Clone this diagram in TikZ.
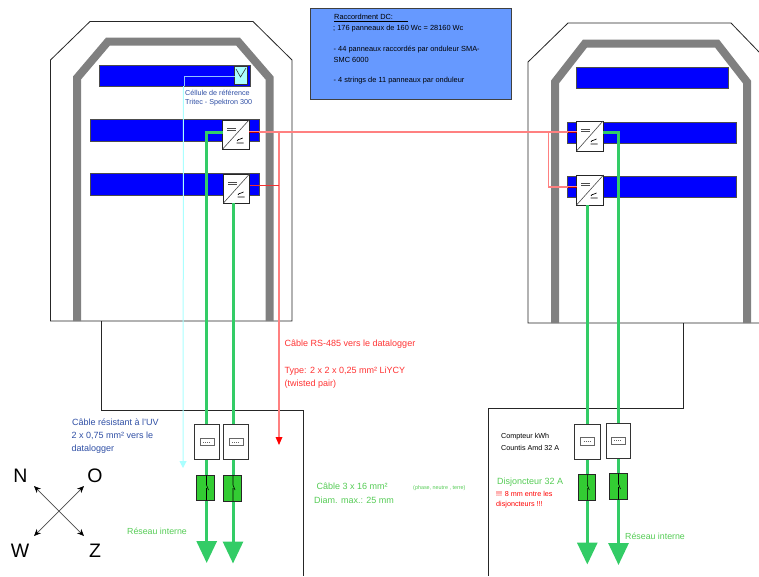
\documentclass[tikz,border=0pt]{standalone}
\usepackage{fontspec}
\setmainfont{Liberation Sans}
\usetikzlibrary{arrows.meta}
\definecolor{roofgray}{HTML}{808080}
\definecolor{barblue}{HTML}{0000FF}
\definecolor{panelblue}{HTML}{6699FF}
\definecolor{cablegreen}{HTML}{33CC66}
\definecolor{breakgreen}{HTML}{33CC33}
\definecolor{redline}{HTML}{FF8080}
\definecolor{redthin}{HTML}{F03030}
\definecolor{cyanline}{HTML}{AAFFFF}
\definecolor{txtblue}{HTML}{2F4FA5}
\definecolor{txtred}{HTML}{FF3333}
\definecolor{txtgreen}{HTML}{55CC55}
\tikzset{
  x=1pt,y=-1pt,
  outline/.style={draw=black!85,line width=0.8pt},
  roof/.style={draw=roofgray,line width=8pt,miter limit=10},
  bar/.style={draw=black!70,fill=barblue,line width=0.7pt},
  inverterbox/.style={draw=black!85,fill=white,line width=0.8pt},
  meterbox/.style={draw=black!80,fill=white,line width=0.8pt},
  display/.style={draw=black!60,fill=white,line width=0.8pt},
  breaker/.style={draw=black!85,fill=breakgreen,line width=0.8pt},
  dc/.style={draw=cablegreen,line width=3pt},
  bigarrow/.style={dc,-{Triangle[width=20pt,length=22pt,fill=cablegreen]}},
  rs/.style={draw=redline,line width=1.1pt},
  lbl/.style={anchor=west,inner sep=0pt,font=\fontsize{7.2}{7.2}\selectfont,align=left},
  panellbl/.style={lbl,font=\fontsize{7.4}{7.4}\selectfont},
  biglbl/.style={lbl,font=\fontsize{9}{9}\selectfont},
  netlbl/.style={lbl,text=txtgreen,font=\fontsize{8.8}{9}\selectfont},
  compassletter/.style={inner sep=0pt,font=\fontsize{19.5}{20}\selectfont},
  compassarrow/.style={draw=black!70,line width=0.7pt,{Stealth[length=7pt,width=6pt,black]}-{Stealth[length=7pt,width=6pt,black]}},
}
\newcommand{\invsym}[2]{%
  \draw[black!70,line width=0.7pt] (#1+4.5,#2+8.5)--(#1+13,#2+8.5) (#1+4.5,#2+10.4)--(#1+13,#2+10.4);
  \draw[black,line width=0.7pt] (#1+14.5,#2+21) .. controls (#1+16,#2+17.5) and (#1+17.5,#2+21) .. (#1+20,#2+18)
     (#1+14,#2+23)--(#1+21,#2+23);}
\begin{document}
\begin{tikzpicture}
\useasboundingbox (0,0) rectangle (759,576);
\fill[white] (0,0) rectangle (759,576);
% left building
\draw[outline] (50.5,321)--(50.5,60)--(90,21.5)--(253,21.5)--(292,60)--(292,321)--cycle;
\draw[roof] (77,321)--(77,78)--(108,41.5)--(238,41.5)--(269.5,78)--(269.5,321);
\draw[outline] (101,321)--(101,410)--(303,410)--(303,576);
% right building
\draw[outline] (759,52)--(731,23)--(568,23)--(528,62)--(528,323)--(759,323);
\draw[roof] (555,323)--(555,82)--(585,43.5)--(717,43.5)--(747,82)--(747,323);
\draw[outline] (683,323)--(683,408)--(488,408)--(488,576);
% panel rows
\draw[bar] (99,65) rectangle (250.5,86.5);
\draw[bar] (90,119) rectangle (259,141);
\draw[bar] (90,173.5) rectangle (259,195);
\draw[bar] (576.5,67.5) rectangle (728,88);
\draw[bar] (567.5,122) rectangle (736.5,143);
\draw[bar] (567.5,176) rectangle (736.5,197);
% reference cell
\draw[draw=black!80,fill=cyanline,line width=0.7pt] (234.7,66) rectangle (247,84);
\draw[black!80,line width=0.6pt] (236,69)--(240.5,77)--(246,68);
\coordinate (cellout) at (234.7,76);
\coordinate (cellend) at (183,468);
\draw[cyanline!70!blue!80!white,line width=1pt] (cellout)--(184,76)--(184,86);
\draw[cyanline,line width=1pt,-{Triangle[width=7pt,length=7pt,fill=cyanline]}] (183.5,86)--(cellend);
% inverters
\draw[inverterbox] (222.7,120) rectangle (249,149);
\draw[black!70,line width=0.6pt] (222.7,149)--(249,120);
\invsym{222.7}{120}
\draw[inverterbox] (223.5,174) rectangle (249.5,203);
\draw[black!70,line width=0.6pt] (223.5,203)--(249.5,174);
\invsym{223.5}{174}
\draw[inverterbox] (576.5,121) rectangle (603,151);
\draw[black!70,line width=0.6pt] (576.5,151)--(603,121);
\invsym{576.5}{121}
\draw[inverterbox] (576.5,175) rectangle (603.5,205);
\draw[black!70,line width=0.6pt] (576.5,205)--(603.5,175);
\invsym{576.5}{175}
% RS-485
\coordinate (rsl) at (249,132);
\coordinate (rsr) at (577,132);
\draw[rs] (rsl)--(rsr);
\draw[rs] (548.3,132)--(548.3,187)--(577,187);
\draw[rs] (279,132)--(279,441);
\draw[redthin,line width=1pt] (249.5,185.3)--(279,185.3);
\draw[red!70!black,line width=0.8pt] (249,132)--(259,132) (567.5,132)--(576.5,132) (567.5,187)--(576.5,187);
\fill[red] (275.5,437)--(282.5,437)--(279,445)--cycle;
% DC cables
\draw[dc] (222.7,132)--(206.7,132)--(206.7,204);
\draw[bigarrow] (206.7,204)--(206.7,563);
\draw[bigarrow] (233,203)--(233,563.5);
\draw[dc] (603,132)--(618.5,132)--(618.5,206);
\draw[bigarrow] (618.5,206)--(618.5,565);
\draw[bigarrow] (587.3,205)--(587.3,564.5);
% meters
\draw[meterbox] (194.7,424.3) rectangle (219.3,459.6);
\draw[display] (200,438.6) rectangle (214,445.6);
\draw[meterbox] (223.3,424.3) rectangle (248,459.6);
\draw[display] (229,438.6) rectangle (243,445.6);
\draw[meterbox] (574.5,424.5) rectangle (600,459.3);
\draw[display] (580.5,437.5) rectangle (594.5,445);
\draw[meterbox] (606,423.3) rectangle (630.5,458.5);
\draw[display] (611.5,437.5) rectangle (625,444);
\foreach \cx/\cy in {207/442.1,236/442.1,587.5/441.2,618.2/440.7}
  \draw[black!60,line width=0.5pt,dash pattern=on 1pt off 1pt] (\cx-4,\cy)--(\cx+4,\cy);
% breakers
\draw[breaker] (196.5,475.3) rectangle (214.5,500.3);
\draw[black,line width=0.6pt] (206.5,475.3)--(206.5,485) (206.5,488)--(206.5,500.3) (206.5,485)--(208.5,490);
\draw[breaker] (223.5,475.3) rectangle (241.5,501);
\draw[black,line width=0.6pt] (233,475.3)--(233,485) (233,488)--(233,501) (233,485)--(235,490);
\draw[breaker] (578.3,474.5) rectangle (595.5,500);
\draw[black,line width=0.6pt] (587.3,474.5)--(587.3,485) (587.3,488)--(587.3,500) (587.3,485)--(589.3,490);
\draw[breaker] (609,473.5) rectangle (627,499.5);
\draw[black,line width=0.6pt] (618.5,473.5)--(618.5,484) (618.5,487)--(618.5,499.5) (618.5,484)--(620.5,489);
% info panel
\draw[draw=black!75,fill=panelblue,line width=0.8pt] (310.3,8.3) rectangle (511.7,99.8);
\node[panellbl] (t0) at (334,17) {Raccordment DC:};
\draw[black,line width=0.7pt] (334,21)--(408,21);
\node[panellbl] (t1) at (333,28.5) {; 176 panneaux de 160 Wc = 28160 Wc};
\node[panellbl] (t2) at (333.5,49.5) {- 44 panneaux raccordés par onduleur SMA-};
\node[panellbl] (t3) at (333.5,60) {SMC 6000};
\node[panellbl] (t4) at (333.5,81) {- 4 strings de 11 panneaux par onduleur};
% labels
\node[lbl,text=txtblue] (c1) at (185,92.5) {Céllule de référence};
\node[lbl,text=txtblue] (c2) at (185,103) {Tritec - Spektron 300};
\node[biglbl,text=txtred] (r1) at (284.5,344.5) {Câble RS-485 vers le datalogger};
\node[biglbl,text=txtred] (r2) at (284.5,371) {Type: 2 x 2 x 0,25 mm² LiYCY};
\node[biglbl,text=txtred] (r3) at (284.5,384.5) {(twisted pair)};
\node[biglbl,text=txtblue] (b1) at (72,422.5) {Câble résistant à l'UV};
\node[biglbl,text=txtblue] (b2) at (71.5,436) {2 x 0,75 mm² vers le};
\node[biglbl,text=txtblue] (b3) at (71.5,449.5) {datalogger};
\node[biglbl,text=txtgreen] (g1) at (316.5,486.5) {Câble 3 x 16 mm²};
\node[biglbl,text=txtgreen] (g2) at (314,500) {Diam. max.: 25 mm};
\node[lbl,text=txtgreen,font=\fontsize{5.4}{5.4}\selectfont] (g3) at (413,488) {(phase, neutre , terre)};
\node[netlbl] (g4) at (127,531) {Réseau interne};
\node[netlbl] (g5) at (625,536.5) {Réseau interne};
\node[lbl,text=black] (k1) at (501,436.5) {Compteur kWh};
\node[lbl,text=black] (k2) at (501,447.5) {Countis Amd 32 A};
\node[biglbl,text=txtgreen] (d1) at (497,482) {Disjoncteur 32 A};
\node[lbl,text=red] (d2) at (496,493.5) {!!! 8 mm entre les};
\node[lbl,text=red] (d3) at (496,504.5) {disjoncteurs !!!};
% compass
\coordinate (cNW) at (34,486);
\coordinate (cSE) at (84,536);
\coordinate (cNE) at (84,486);
\coordinate (cSW) at (34,536);
\draw[compassarrow] (cNW)--(cSE);
\draw[compassarrow] (cNE)--(cSW);
\node[compassletter] (N) at (20.5,476) {N};
\node[compassletter] (O) at (95,476) {O};
\node[compassletter] (W) at (20,551) {W};
\node[compassletter] (Z) at (95,551) {Z};
\end{tikzpicture}
\end{document}
